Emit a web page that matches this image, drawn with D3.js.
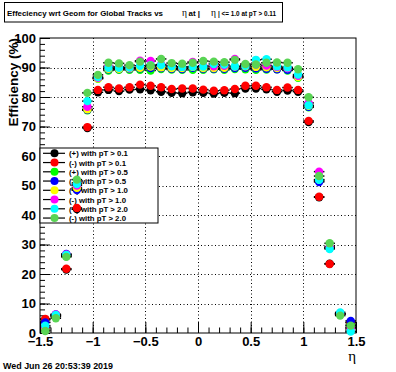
<!DOCTYPE html>
<html>
<head>
<meta charset="utf-8">
<script src="https://cdn.jsdelivr.net/npm/d3@7"></script>
<style>
  html, body { margin: 0; padding: 0; background: #fff; }
  svg { display: block; }
  text { font-family: "Liberation Sans", Arial, sans-serif; font-weight: bold; }
</style>
</head>
<body>
<script>
// eta bin centres (bin width 0.1)
var etaBins = [-1.45, -1.35, -1.25, -1.15, -1.05, -0.95, -0.85, -0.75, -0.65, -0.55,
               -0.45, -0.35, -0.25, -0.15, -0.05, 0.05, 0.15, 0.25, 0.35, 0.45,
               0.55, 0.65, 0.75, 0.85, 0.95, 1.05, 1.15, 1.25, 1.35, 1.45];

// efficiency (%) per series
var posPt01 = [4.5, 5.5, 21.5, 42.0, 69.5, 81.6, 82.4, 82.0, 82.5, 82.6, 82.3, 81.8, 81.4, 81.3, 81.6,
               81.4, 81.2, 81.4, 81.3, 82.9, 82.9, 82.6, 81.8, 82.2, 81.8, 71.5, 46.0, 23.5, 6.5, 3.5];
var negPt01 = [4.8, 5.8, 21.8, 42.4, 69.8, 82.4, 83.3, 82.9, 83.3, 84.2, 83.8, 83.3, 82.7, 82.9, 82.9,
               82.5, 82.1, 82.3, 82.7, 83.8, 83.8, 83.3, 82.4, 83.2, 82.4, 71.9, 46.2, 23.4, 6.6, 3.6];
var posPt05 = [1.0, 5.8, 26.0, 48.8, 75.5, 86.2, 89.0, 89.2, 89.2, 89.2, 89.0, 89.5, 89.3, 89.2, 89.2,
               89.2, 89.4, 89.2, 89.5, 89.4, 89.2, 89.3, 89.4, 89.0, 86.5, 76.5, 51.5, 29.0, 6.3, 2.7];
var negPt05 = [3.6, 6.3, 26.8, 48.5, 75.7, 86.5, 89.4, 89.5, 89.6, 89.7, 89.8, 89.8, 89.6, 89.5, 89.9,
               89.6, 89.6, 89.6, 89.8, 89.9, 89.7, 89.6, 89.4, 89.2, 86.9, 76.7, 51.2, 28.7, 6.5, 4.1];
var posPt10 = [1.7, 6.0, 26.3, 49.2, 75.8, 86.3, 89.6, 89.6, 89.7, 89.9, 90.3, 90.1, 89.8, 89.8, 90.2,
               89.8, 89.8, 89.9, 90.3, 90.4, 90.2, 90.1, 89.8, 89.8, 86.8, 77.0, 52.0, 28.8, 6.4, 2.0];
var negPt10 = [2.0, 6.3, 26.6, 50.0, 76.7, 86.5, 90.4, 90.2, 90.0, 92.3, 92.2, 91.0, 90.6, 90.2, 91.9,
               90.6, 90.4, 90.6, 92.9, 90.8, 91.0, 90.7, 90.2, 89.8, 87.2, 78.0, 54.7, 29.2, 6.5, 1.7];
var posPt20 = [2.5, 6.1, 26.5, 50.5, 78.6, 86.8, 89.9, 89.9, 90.0, 90.6, 90.8, 90.8, 90.4, 90.2, 90.3,
               90.3, 91.2, 91.0, 90.4, 90.6, 92.6, 92.8, 90.4, 90.1, 87.6, 77.2, 51.9, 28.5, 7.0, 0.5];
var negPt20 = [0.7, 5.0, 25.8, 52.0, 81.4, 87.5, 91.6, 91.4, 90.8, 92.0, 90.7, 92.9, 91.5, 91.3, 91.6,
               92.2, 92.0, 91.8, 92.6, 91.2, 91.0, 91.6, 91.7, 91.6, 89.4, 79.9, 53.2, 30.4, 5.9, 2.5];

var seriesNames = ["(+) with pT > 0.1", "(-) with pT > 0.1", "(+) with pT > 0.5", "(-) with pT > 0.5",
                   "(+) with pT > 1.0", "(-) with pT > 1.0", "(+) with pT > 2.0", "(-) with pT > 2.0"];
var seriesValues = [posPt01, negPt01, posPt05, negPt05, posPt10, negPt10, posPt20, negPt20];
// ROOT colours 1..8
var seriesColors = ["#000000", "#ff0000", "#00ff00", "#0000ff", "#ffff00", "#ff00ff", "#00ffff", "#59d454"];

var xMajor = [-1.5, -1, -0.5, 0, 0.5, 1, 1.5];
var yMajor = [0, 10, 20, 30, 40, 50, 60, 70, 80, 90, 100];

var W = 396, H = 372;
var svg = d3.select("body").append("svg").attr("width", W).attr("height", H);

var x = d3.scaleLinear().domain([-1.5, 1.5]).range([40, 356]);
var y = d3.scaleLinear().domain([0, 100]).range([333, 38]);
var binHalf = 0.05;

// dotted grid
var grid = svg.append("g").attr("stroke", "#000").attr("stroke-width", 1)
  .attr("stroke-dasharray", "1,2.5");
grid.selectAll("line.gx").data(xMajor.slice(1, -1)).enter().append("line")
  .attr("x1", function(d) { return Math.round(x(d)) + 0.5; })
  .attr("x2", function(d) { return Math.round(x(d)) + 0.5; })
  .attr("y1", y(100)).attr("y2", y(0));
grid.selectAll("line.gy").data(yMajor.slice(1, -1)).enter().append("line")
  .attr("y1", function(d) { return Math.round(y(d)) + 0.5; })
  .attr("y2", function(d) { return Math.round(y(d)) + 0.5; })
  .attr("x1", x(-1.5)).attr("x2", x(1.5));

// axes, ROOT style ticks pointing inwards
var xMinor = d3.range(-15, 16).map(function(i) { return i / 10; });
var yMinor = d3.range(0, 101, 2);

svg.append("g").attr("transform", "translate(0," + y(0) + ")")
  .call(d3.axisBottom(x).tickValues(xMinor).tickSize(-5.5).tickSizeOuter(0).tickFormat(""))
  .call(function(g) { g.select(".domain").remove(); });
var gx = svg.append("g").attr("transform", "translate(0," + y(0) + ")")
  .call(d3.axisBottom(x).tickValues(xMajor).tickSize(-11).tickSizeOuter(0).tickPadding(4)
    .tickFormat(function(d) { return d3.format("")(d); }));
gx.select(".domain").remove();
gx.selectAll("text").attr("font-size", 13).attr("font-family", null).attr("fill", "#000");

svg.append("g").attr("transform", "translate(" + x(-1.5) + ",0)")
  .call(d3.axisLeft(y).tickValues(yMinor).tickSize(-5).tickSizeOuter(0).tickFormat(""))
  .call(function(g) { g.select(".domain").remove(); });
var gy = svg.append("g").attr("transform", "translate(" + x(-1.5) + ",0)")
  .call(d3.axisLeft(y).tickValues(yMajor).tickSize(-10).tickSizeOuter(0).tickPadding(4));
gy.select(".domain").remove();
gy.selectAll("text").attr("font-size", 13).attr("font-family", null).attr("fill", "#000");

// frame
svg.append("rect").attr("x", x(-1.5)).attr("y", y(100))
  .attr("width", x(1.5) - x(-1.5)).attr("height", y(0) - y(100))
  .attr("fill", "none").attr("stroke", "#000").attr("stroke-width", 1);

// axis titles
svg.append("text").attr("transform", "translate(18," + y(100) + ") rotate(-90)")
  .attr("text-anchor", "end").attr("font-size", 13.5).text("Efficiency (%)");
svg.append("text").attr("x", 356).attr("y", 361).attr("text-anchor", "end")
  .style("font-family", "'Liberation Serif', 'DejaVu Serif', serif").style("font-weight", "normal")
  .attr("font-size", 15).text("\u03b7");

// legend (drawn under the points, as in the original)
var leg = svg.append("g");
leg.append("rect").attr("x", 40).attr("y", 148).attr("width", 118).attr("height", 75)
  .attr("fill", "#fff").attr("stroke", "#000");
var rows = leg.selectAll("g.row").data(seriesNames).enter().append("g")
  .attr("transform", function(d, i) { return "translate(0," + (153.3 + i * 9.25) + ")"; });
rows.append("line").attr("x1", 43).attr("x2", 65).attr("stroke", "#000").attr("stroke-width", 1.2);
rows.append("circle").attr("cx", 54.5).attr("r", 4)
  .attr("fill", function(d, i) { return seriesColors[i]; });
rows.append("text").attr("x", 69).attr("y", 3).attr("font-size", 7.8).text(function(d) { return d; });

// data: black x-error bars then markers, series after series
seriesValues.forEach(function(vals, s) {
  var g = svg.append("g");
  var pts = etaBins.map(function(e, i) { return {eta: e, v: vals[i]}; });
  g.selectAll("line").data(pts).enter().append("line")
    .attr("x1", function(d) { return x(d.eta - binHalf); })
    .attr("x2", function(d) { return x(d.eta + binHalf); })
    .attr("y1", function(d) { return y(d.v); })
    .attr("y2", function(d) { return y(d.v); })
    .attr("stroke", "#000").attr("stroke-width", 1.5);
  g.selectAll("circle").data(pts).enter().append("circle")
    .attr("cx", function(d) { return x(d.eta); })
    .attr("cy", function(d) { return y(d.v); })
    .attr("r", 4.2)
    .attr("fill", seriesColors[s]);
});

// title box
var tb = svg.append("g");
tb.append("rect").attr("x", 4.5).attr("y", 2.5).attr("width", 278).attr("height", 19.5)
  .attr("fill", "#fff").attr("stroke", "#000");
tb.append("text").attr("x", 7).attr("y", 15.5).attr("font-size", 8)
  .attr("textLength", 156).attr("lengthAdjust", "spacingAndGlyphs")
  .text("Effeciency wrt Geom for Global Tracks vs");
tb.append("text").attr("x", 182).attr("y", 15.5).attr("font-size", 9.5)
  .style("font-family", "'Liberation Serif', serif").style("font-weight", "normal").text("\u03b7");
tb.append("text").attr("x", 188.5).attr("y", 15.5).attr("font-size", 8).text("at |");
tb.append("text").attr("x", 211).attr("y", 15.5).attr("font-size", 9.5)
  .style("font-family", "'Liberation Serif', serif").style("font-weight", "normal").text("\u03b7");
tb.append("text").attr("x", 218).attr("y", 15.5).attr("font-size", 8)
  .attr("textLength", 58).attr("lengthAdjust", "spacingAndGlyphs")
  .text("| <= 1.0 at pT > 0.11");

// date stamp
svg.append("text").attr("x", 3).attr("y", 369).attr("font-size", 8.5)
  .attr("textLength", 110).attr("lengthAdjust", "spacingAndGlyphs")
  .text("Wed Jun 26 20:53:39 2019");
</script>
</body>
</html>
